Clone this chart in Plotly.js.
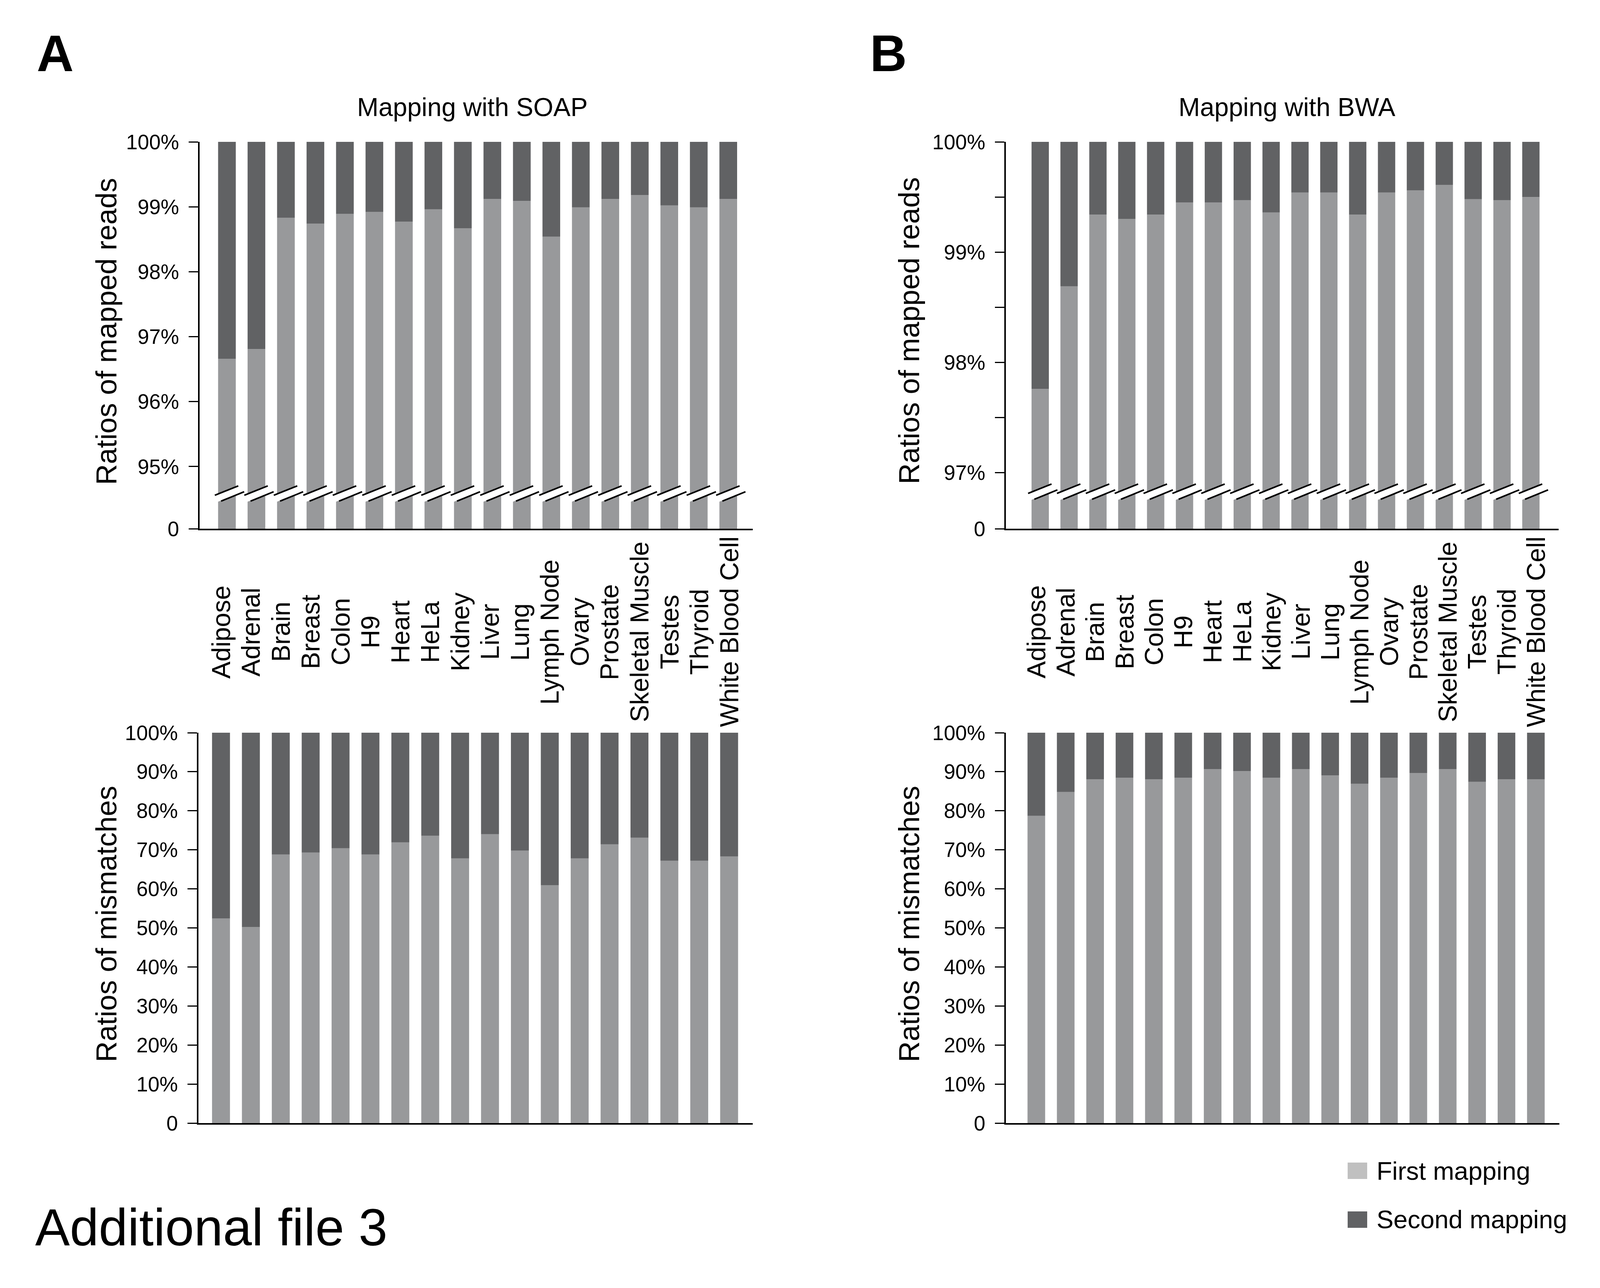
<!DOCTYPE html>
<html>
<head>
<meta charset="utf-8">
<script src="https://cdn.plot.ly/plotly-3.0.1.min.js"></script>
<style>
body { margin: 0; background: #fff; }
#chart { width: 4109px; height: 3296px; }
</style>
</head>
<body>
<div id="chart"></div>
<script>
var W = 4109, H = 3296;

var tissues = ['Adipose', 'Adrenal', 'Brain', 'Breast', 'Colon', 'H9', 'Heart', 'HeLa', 'Kidney', 'Liver',
    'Lung', 'Lymph Node', 'Ovary', 'Prostate', 'Skeletal Muscle', 'Testes', 'Thyroid', 'White Blood Cell'];

// share (%) found by the first mapping; the rest up to 100% comes from the second mapping
var soapReads = [96.66, 96.81, 98.83, 98.74, 98.89, 98.92, 98.77, 98.96, 98.67, 99.12, 99.09, 98.54, 98.99, 99.12, 99.18, 99.02, 98.99, 99.12];
var bwaReads = [97.76, 98.69, 99.34, 99.30, 99.34, 99.45, 99.45, 99.47, 99.36, 99.54, 99.54, 99.34, 99.54, 99.56, 99.61, 99.48, 99.47, 99.50];
var soapMism = [52.4, 50.2, 68.8, 69.3, 70.4, 68.8, 71.9, 73.6, 67.8, 74.0, 69.8, 60.9, 67.8, 71.4, 73.1, 67.2, 67.2, 68.3];
var bwaMism = [78.7, 84.8, 88.1, 88.5, 88.1, 88.5, 90.7, 90.2, 88.5, 90.7, 89.1, 86.9, 88.5, 89.7, 90.7, 87.4, 88.1, 88.1];

var soapTicks = [95, 96, 97, 98, 99, 100];
var bwaTicks = [97, 97.5, 98, 98.5, 99, 99.5, 100];
var mismTicks = [0, 10, 20, 30, 40, 50, 60, 70, 80, 90, 100];

var FIRST = '#98999b', SECOND = '#616264', FIRST_KEY = '#c0c0c0';
var FONT = 'Liberation Sans, Arial, sans-serif';

function px(x) { return x / W; }
function py(y) { return 1 - y / H; }

// plot boxes in pixels: [left, right], [top, bottom]
var boxes = {
    tl: {x: [511, 1927], y: [363, 1353], xr: [-0.927, 17.83], yr: [94.043, 100]},
    tr: {x: [2575, 3990], y: [363, 1353], xr: [-1.19, 17.96], yr: [96.493, 100]},
    bl: {x: [508, 1927], y: [1875, 2874], xr: [-0.755, 17.79], yr: [0, 100]},
    br: {x: [2575, 3992], y: [1875, 2874], xr: [-1.037, 17.80], yr: [0, 100]}
};

function pair(vals, xa, ya) {
    return [
        {type: 'bar', x: tissues, y: vals, xaxis: xa, yaxis: ya, name: 'First mapping',
            marker: {color: FIRST, line: {width: 0}}, showlegend: false, hoverinfo: 'x+y'},
        {type: 'bar', x: tissues, y: vals.map(function (v) { return 100 - v; }), base: vals,
            xaxis: xa, yaxis: ya, name: 'Second mapping',
            marker: {color: SECOND, line: {width: 0}}, showlegend: false, hoverinfo: 'x+y'}
    ];
}

var data = [].concat(
    pair(soapReads, 'x', 'y'),
    pair(bwaReads, 'x2', 'y2'),
    pair(soapMism, 'x3', 'y3'),
    pair(bwaMism, 'x4', 'y4')
);

function xAxis(b, anchor) {
    return {domain: [px(b.x[0]), px(b.x[1])], range: b.xr, anchor: anchor, type: 'category',
        showline: true, linewidth: 4, linecolor: '#000', showticklabels: false, ticks: '',
        showgrid: false, zeroline: false, fixedrange: true};
}

function yAxis(b, anchor, vals, text) {
    return {domain: [py(b.y[1]), py(b.y[0])], range: b.yr, anchor: anchor,
        tickvals: vals, ticktext: text, ticks: 'outside', ticklen: 24, tickwidth: 3, tickcolor: '#000',
        ticklabelstandoff: 14, tickfont: {size: 53, color: '#000'},
        showline: true, linewidth: 4, linecolor: '#000', showgrid: false, zeroline: false, fixedrange: true};
}

function pct(t) { return t % 1 === 0 ? t + '%' : ''; }

// broken axis: the tick at the bottom of the range reads 0
var soapVals = [boxes.tl.yr[0]].concat(soapTicks);
var soapText = ['0'].concat(soapTicks.map(pct));
var bwaVals = [boxes.tr.yr[0]].concat(bwaTicks);
var bwaText = ['0'].concat(bwaTicks.map(pct));
var mismText = mismTicks.map(function (t) { return t === 0 ? '0' : t + '%'; });

// break marks across each bar, offsets in pixels from bar centre / break level
function breakMarks(b, xref, yref, level) {
    var kx = (b.xr[1] - b.xr[0]) / (b.x[1] - b.x[0]);
    var ky = (b.yr[1] - b.yr[0]) / (b.y[1] - b.y[0]);
    var out = [];
    tissues.forEach(function (t, i) {
        function seg(a, c, color, w) {
            return {type: 'line', xref: xref, yref: yref, layer: 'above',
                x0: i + a[0] * kx, y0: level - a[1] * ky, x1: i + c[0] * kx, y1: level - c[1] * ky,
                line: {color: color, width: w}};
        }
        out.push(seg([-40, 16.3], [45, -17.7], '#fff', 17));
        out.push(seg([-31, 2], [29, -22], '#000', 4));
        out.push(seg([-15, 17], [44, -7], '#000', 4));
    });
    return out;
}

var shapes = [].concat(
    breakMarks(boxes.tl, 'x', 'y', 94.57),
    breakMarks(boxes.tr, 'x2', 'y2', 96.82),
    [
        {type: 'rect', xref: 'paper', yref: 'paper', x0: px(3450), x1: px(3500), y0: py(3017), y1: py(2975),
            fillcolor: FIRST_KEY, line: {width: 0}},
        {type: 'rect', xref: 'paper', yref: 'paper', x0: px(3450), x1: px(3500), y0: py(3142), y1: py(3100),
            fillcolor: SECOND, line: {width: 0}}
    ]
);

function note(text, x, y, size, opts) {
    var a = {text: text, xref: 'paper', yref: 'paper', x: px(x), y: py(y), showarrow: false,
        xanchor: 'center', yanchor: 'middle', font: {size: size, color: '#000', family: FONT}};
    for (var k in opts) a[k] = opts[k];
    return a;
}

var annotations = [
    note('<b>A</b>', 92, 137, 131, {xanchor: 'left'}),
    note('<b>B</b>', 2225, 137, 131, {xanchor: 'left'}),
    note('Mapping with SOAP', 1209, 274, 66),
    note('Mapping with BWA', 3294, 274, 66),
    note('Ratios of mapped reads', 272, 848, 74, {textangle: -90}),
    note('Ratios of mapped reads', 2327, 846, 74, {textangle: -90}),
    note('Ratios of mismatches', 272, 2365, 74, {textangle: -90}),
    note('Ratios of mismatches', 2327, 2365, 74, {textangle: -90}),
    note('First mapping', 3522, 2996, 65, {xanchor: 'left'}),
    note('Second mapping', 3522, 3120, 65, {xanchor: 'left'}),
    note('Additional file 3', 88, 3141, 133, {xanchor: 'left'})
];

tissues.forEach(function (t) {
    ['x3', 'x4'].forEach(function (xr) {
        annotations.push({text: t, xref: xr, yref: 'paper', x: t, y: py(1617), showarrow: false,
            textangle: -90, xanchor: 'center', yanchor: 'middle',
            font: {size: 66, color: '#000', family: FONT}});
    });
});

var layout = {
    width: W, height: H,
    margin: {l: 0, r: 0, t: 0, b: 0},
    paper_bgcolor: '#fff', plot_bgcolor: '#fff',
    font: {family: FONT, color: '#000'},
    barmode: 'overlay', bargap: 0.4,
    showlegend: false,
    xaxis: xAxis(boxes.tl, 'y'),
    yaxis: yAxis(boxes.tl, 'x', soapVals, soapText),
    xaxis2: xAxis(boxes.tr, 'y2'),
    yaxis2: yAxis(boxes.tr, 'x2', bwaVals, bwaText),
    xaxis3: xAxis(boxes.bl, 'y3'),
    yaxis3: yAxis(boxes.bl, 'x3', mismTicks, mismText),
    xaxis4: xAxis(boxes.br, 'y4'),
    yaxis4: yAxis(boxes.br, 'x4', mismTicks, mismText),
    shapes: shapes,
    annotations: annotations
};

Plotly.newPlot('chart', data, layout, {displayModeBar: false, staticPlot: true});
</script>
</body>
</html>
